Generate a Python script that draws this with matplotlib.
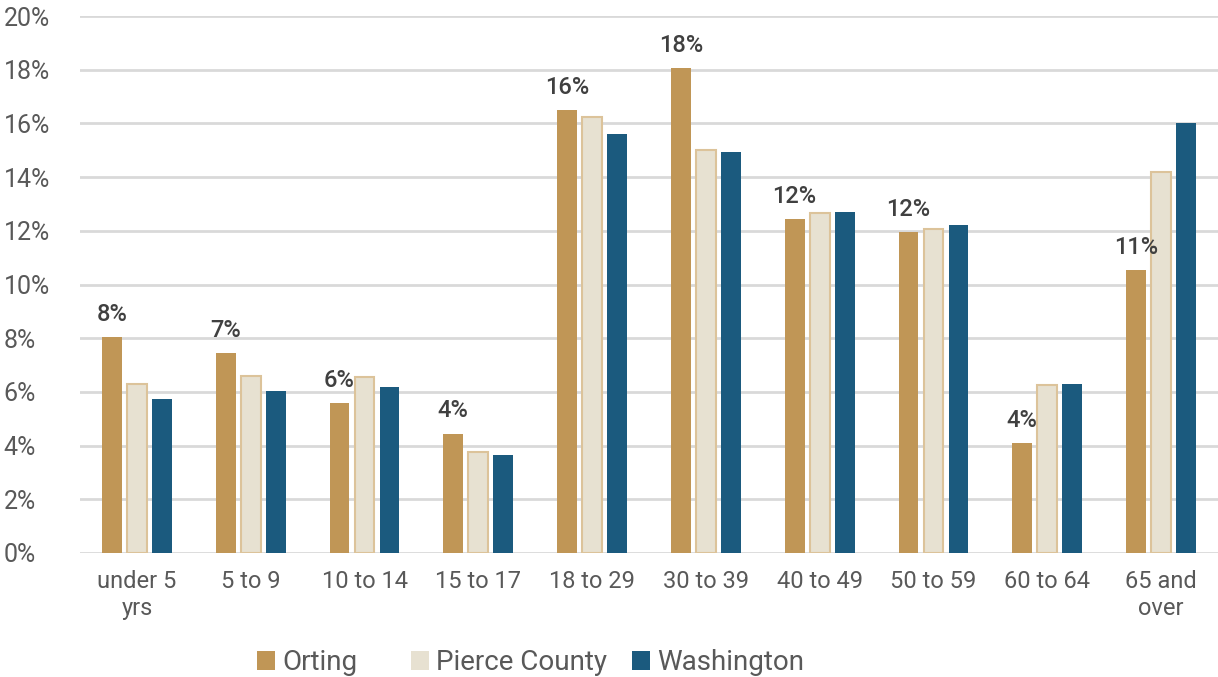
import matplotlib
matplotlib.use("Agg")
import matplotlib.pyplot as plt
import numpy as np
from matplotlib.patches import Patch

categories = ["under 5\nyrs", "5 to 9", "10 to 14", "15 to 17", "18 to 29",
              "30 to 39", "40 to 49", "50 to 59", "60 to 64", "65 and\nover"]
orting = [8.05, 7.45, 5.6, 4.45, 16.5, 18.05, 12.45, 11.95, 4.1, 10.55]
pierce = [6.3, 6.6, 6.55, 3.75, 16.25, 15.0, 12.65, 12.05, 6.25, 14.2]
washington = [5.75, 6.05, 6.2, 3.65, 15.6, 14.95, 12.7, 12.2, 6.3, 16.0]
series_names = ["Orting", "Pierce County", "Washington"]
yticks = [0, 2, 4, 6, 8, 10, 12, 14, 16, 18, 20]

c_or = "#c09656"
c_pc = "#e7e1d1"
c_pc_edge = "#dcc39a"
c_wa = "#1b5a7e"
txt = "#595959"

plt.rcParams['font.family'] = ['Roboto', 'DejaVu Sans']

fig = plt.figure(figsize=(12.18, 6.77), dpi=100)
ax = fig.add_axes([80/1218, 1-553/677, 1-80/1218, (553-16)/677])

x = np.arange(len(categories))
w = 0.175
off = 0.22
ax.bar(x - off, orting, w, color=c_or, zorder=3)
ax.bar(x, pierce, w, color=c_pc, edgecolor=c_pc_edge, linewidth=1.5, zorder=3)
ax.bar(x + off, washington, w, color=c_wa, zorder=3)

for xi, v in zip(x, orting):
    ax.annotate(f"{v:.0f}%", (xi - off, v), xytext=(0, 8), textcoords="offset points",
                ha="center", va="bottom", fontsize=17, fontweight="medium", color="#404040")

ax.set_xlim(-0.5, len(categories) - 0.5)
ax.set_ylim(0, 20)
ax.set_yticks(yticks)
ax.set_yticklabels([f"{t}%" for t in yticks], fontsize=18, color=txt)
ax.set_xticks(x)
ax.set_xticklabels(categories, fontsize=17, color=txt, linespacing=1.25)
ax.tick_params(axis="both", length=0)
ax.tick_params(axis="x", pad=12)
for lab in ax.get_yticklabels():
    lab.set_horizontalalignment("left")
ax.yaxis.set_tick_params(pad=55)
ax.grid(axis="y", color="#d9d9d9", linewidth=2, zorder=0)
for s in ax.spines.values():
    s.set_visible(False)

handles = [Patch(facecolor=c_or), Patch(facecolor=c_pc), Patch(facecolor=c_wa)]
xs = [257, 411, 632]
for h, name, xp in zip(handles, series_names, xs):
    fig.legend([h], [name], loc="center left", bbox_to_anchor=(xp/1218, 1-663/677),
               frameon=False, handlelength=0.65, handleheight=0.65,
               handletextpad=0.25, borderpad=0, borderaxespad=0,
               labelcolor=txt, prop={'family': ['Roboto', 'DejaVu Sans'], 'size': 20})

fig.savefig("out.png", dpi=100)
